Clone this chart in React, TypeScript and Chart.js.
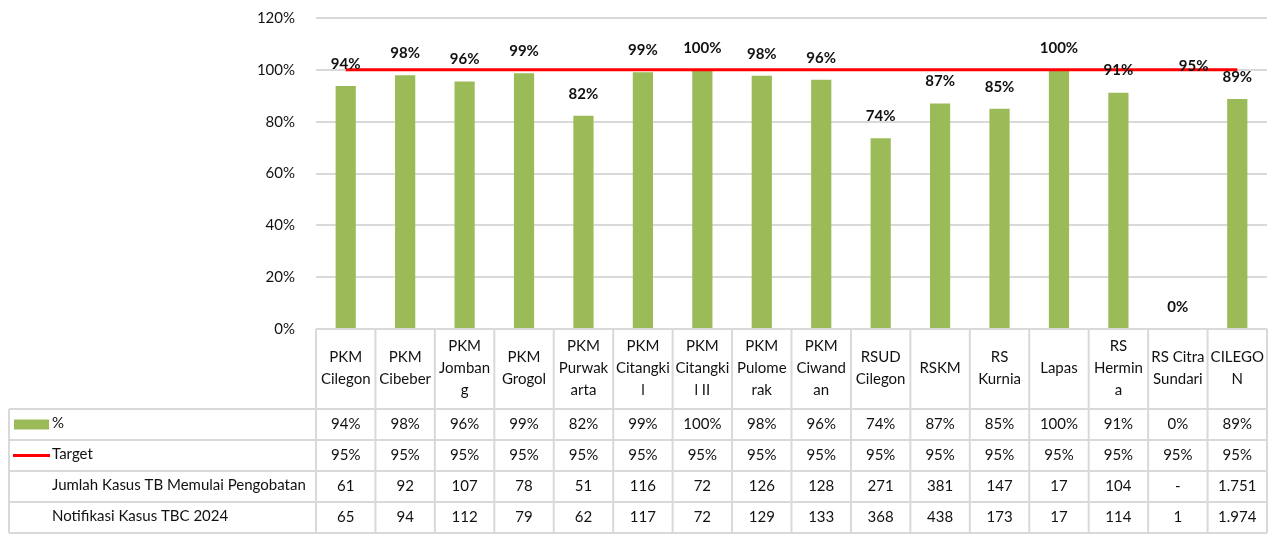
import React, { useEffect, useRef } from "react";
import { Chart, registerables } from "chart.js";

Chart.register(...registerables);

// ---------- DATA ----------
const categories: string[][] = [
  ["PKM", "Cilegon"],
  ["PKM", "Cibeber"],
  ["PKM", "Jomban", "g"],
  ["PKM", "Grogol"],
  ["PKM", "Purwak", "arta"],
  ["PKM", "Citangki", "l"],
  ["PKM", "Citangki", "l II"],
  ["PKM", "Pulome", "rak"],
  ["PKM", "Ciwand", "an"],
  ["RSUD", "Cilegon"],
  ["RSKM"],
  ["RS", "Kurnia"],
  ["Lapas"],
  ["RS", "Hermin", "a"],
  ["RS Citra", "Sundari"],
  ["CILEGO", "N"],
];

const percentValues: number[] = [
  93.8, 97.9, 95.5, 98.7, 82.3, 99.1, 100, 97.7, 96.2, 73.6, 87.0, 85.0, 100, 91.2, 0, 88.7,
];
const percentLabels: string[] = [
  "94%", "98%", "96%", "99%", "82%", "99%", "100%", "98%", "96%", "74%", "87%", "85%", "100%", "91%", "0%", "89%",
];
const targetValues: number[] = [95, 95, 95, 95, 95, 95, 95, 95, 95, 95, 95, 95, 95, 95, 95, 95];
const targetLabels: string[] = [
  "95%", "95%", "95%", "95%", "95%", "95%", "95%", "95%", "95%", "95%", "95%", "95%", "95%", "95%", "95%", "95%",
];
const startedTreatment: (number | null)[] = [
  61, 92, 107, 78, 51, 116, 72, 126, 128, 271, 381, 147, 17, 104, null, 1751,
];
const notified: number[] = [65, 94, 112, 79, 62, 117, 72, 129, 133, 368, 438, 173, 17, 114, 1, 1974];

const rowLabels: string[] = ["%", "Target", "Jumlah Kasus TB Memulai Pengobatan", "Notifikasi Kasus TBC 2024"];
const targetLabelIndex = 14;

const yMin = 0;
const yMax = 120;
const yStep = 20;

// ---------- STYLE ----------
const FONT = "Lato, 'Noto Sans', sans-serif";
const GREEN = "#9bbb59";
const RED = "#ff0000";
const GRID = "#d9d9d9";
const TEXT = "#111111";

const fmtNum = (n: number | null) =>
  n == null ? "-" : String(n).replace(/\B(?=(\d{3})+(?!\d))/g, ".");

const labelsPlugin = {
  id: "valueLabels",
  afterDatasetsDraw(chart: any) {
    const ctx = chart.ctx;
    ctx.save();
    ctx.fillStyle = TEXT;
    ctx.font = `bold 15px ${FONT}`;
    ctx.textBaseline = "middle";
    const barMeta = chart.getDatasetMeta(1);
    barMeta.data.forEach((el: any, i: number) => {
      ctx.textAlign = "center";
      ctx.fillText(percentLabels[i], el.x, el.y - 22);
    });
    const lineMeta = chart.getDatasetMeta(0);
    const p = lineMeta.data[targetLabelIndex];
    if (p) {
      ctx.textAlign = "left";
      ctx.fillText(targetLabels[targetLabelIndex], p.x + 1, p.y - 4);
    }
    ctx.restore();
  },
};

const tablePlugin = {
  id: "dataTable",
  afterDraw(chart: any) {
    const ctx = chart.ctx;
    const xs = chart.scales.x;
    const area = chart.chartArea;
    const n = categories.length;
    const c = (i: number) => xs.getPixelForValue(i);
    const half = (c(1) - c(0)) / 2;
    const left = c(0) - half;
    const right = c(n - 1) + half;
    const headerTop = area.bottom;
    const headerBottom = headerTop + 80;
    const rowH = 31;
    const rowTops = [0, 1, 2, 3, 4].map((k) => headerBottom + k * rowH);
    const tableBottom = rowTops[4];
    const labelLeft = 9;

    ctx.save();
    ctx.strokeStyle = GRID;
    ctx.lineWidth = 2;
    ctx.beginPath();
    ctx.moveTo(left, headerTop);
    ctx.lineTo(right, headerTop);
    rowTops.forEach((y) => {
      ctx.moveTo(labelLeft, y);
      ctx.lineTo(right, y);
    });
    for (let i = 0; i <= n; i++) {
      const x = left + i * 2 * half;
      ctx.moveTo(x, headerTop);
      ctx.lineTo(x, tableBottom);
    }
    ctx.moveTo(labelLeft, headerBottom);
    ctx.lineTo(labelLeft, tableBottom);
    ctx.stroke();

    // header text
    ctx.fillStyle = TEXT;
    ctx.font = `15px ${FONT}`;
    ctx.textAlign = "center";
    ctx.textBaseline = "middle";
    const lh = 22;
    const hc = (headerTop + headerBottom) / 2 - 1;
    categories.forEach((lines, i) => {
      const start = hc - ((lines.length - 1) * lh) / 2;
      lines.forEach((t, k) => ctx.fillText(t, c(i), start + k * lh));
    });

    // rows
    const rows: string[][] = [
      percentLabels,
      targetLabels,
      startedTreatment.map(fmtNum),
      notified.map(fmtNum),
    ];
    rows.forEach((vals, r) => {
      const cy = rowTops[r] + rowH / 2;
      ctx.textAlign = "center";
      vals.forEach((v, i) => ctx.fillText(v, c(i), cy));
      ctx.textAlign = "left";
      ctx.fillText(rowLabels[r], 52, cy - 1);
    });

    // legend keys
    const r0 = rowTops[0] + rowH / 2;
    ctx.fillStyle = GREEN;
    ctx.fillRect(14, r0 - 5, 35, 10);
    const r1 = rowTops[1] + rowH / 2;
    ctx.strokeStyle = RED;
    ctx.lineWidth = 3;
    ctx.beginPath();
    ctx.moveTo(13, r1);
    ctx.lineTo(50, r1);
    ctx.stroke();
    ctx.restore();
  },
};

export default function App() {
  const ref = useRef<HTMLCanvasElement | null>(null);

  useEffect(() => {
    document.body.style.margin = "0";
    const canvas = ref.current;
    if (!canvas) return;
    const chart = new Chart(canvas, {
      type: "bar",
      data: {
        labels: categories,
        datasets: [
          {
            type: "line",
            label: "Target",
            data: targetValues,
            yAxisID: "y2",
            borderColor: RED,
            borderWidth: 3,
            pointRadius: 0,
            tension: 0,
            fill: false,
            order: 0,
          } as any,
          {
            type: "bar",
            label: "%",
            data: percentValues,
            yAxisID: "y",
            backgroundColor: GREEN,
            borderWidth: 0,
            barPercentage: 0.34,
            categoryPercentage: 1,
            order: 1,
          },
        ],
      },
      options: {
        animation: false,
        responsive: false,
        devicePixelRatio: 1,
        layout: { padding: { left: 0, right: 7, top: 18, bottom: 209 } },
        plugins: { legend: { display: false }, tooltip: { enabled: false } },
        scales: {
          x: { display: false },
          y: {
            min: yMin,
            max: yMax,
            ticks: {
              stepSize: yStep,
              padding: 21,
              color: TEXT,
              font: { family: FONT, size: 15 },
              callback: (v: any) => `${v}%`,
            },
            grid: { color: GRID, lineWidth: 2, drawTicks: false },
            border: { display: false },
            afterFit: (s: any) => {
              s.width = 316;
              s.paddingTop = 0;
              s.paddingBottom = 0;
            },
          },
          y2: { display: false, min: 0, max: 114 },
        },
      },
      plugins: [labelsPlugin, tablePlugin],
    });
    return () => chart.destroy();
  }, []);

  return (
    <canvas ref={ref} width={1274} height={538} style={{ display: "block", width: 1274, height: 538 }} />
  );
}
